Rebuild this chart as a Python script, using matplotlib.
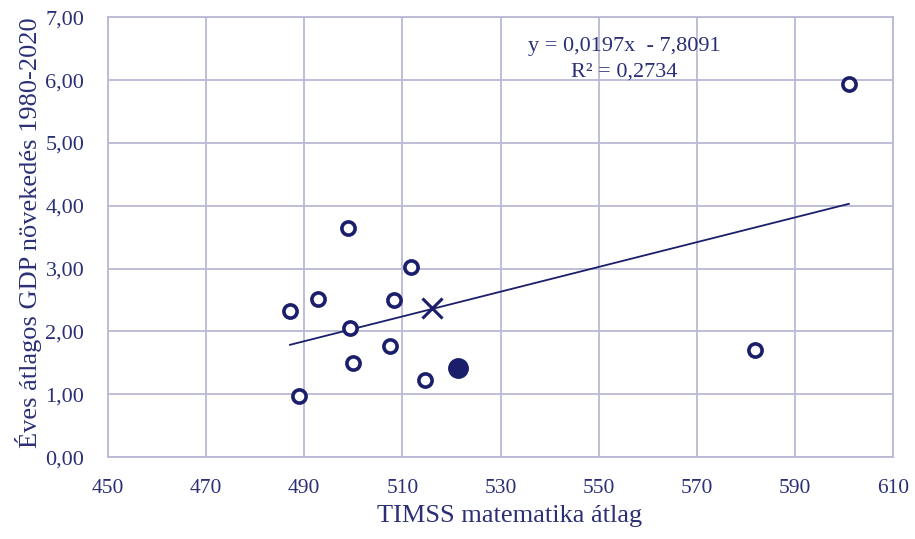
import numpy as np
from matplotlib import pyplot as plt
from matplotlib.ticker import FuncFormatter

plt.rcParams['font.family'] = ['Liberation Serif', 'DejaVu Serif']

# adatok (leolvasva az abrarol)
timss = [601.0, 498.9, 511.8, 492.8, 487.1, 508.3, 499.3, 507.5, 499.9, 514.6, 488.9, 581.9]
gdp = [5.93, 3.65, 3.03, 2.52, 2.33, 2.50, 2.05, 1.77, 1.50, 1.22, 0.97, 1.70]
kiemelt_x = [521.3]   # teli kor
kiemelt_y = [1.42]
atlag_x = [516.0]     # X jel
atlag_y = [2.37]
meredekseg = 0.0197
tengelymetszet = -7.8091
r2 = 0.2734

navy = '#1b1f6b'
racs = '#b9b9d6'
szoveg = '#2b3076'

fig = plt.figure(figsize=(9.15, 5.39), dpi=100)
ax = fig.add_axes([0.118, 0.152, 0.858, 0.816])

ax.set_xlim(450, 610)
ax.set_ylim(0, 7)
ax.set_xticks(np.arange(450, 611, 20))
ax.set_yticks(np.arange(0, 7.01, 1))
ax.grid(True, color=racs, linewidth=1.3)
ax.set_axisbelow(True)
for s in ax.spines.values():
    s.set_color(racs)
    s.set_linewidth(1.3)
ax.tick_params(length=0, colors=szoveg)
ax.tick_params(axis='x', labelsize=15.5, pad=16)
ax.tick_params(axis='y', labelsize=16, pad=17)
ax.yaxis.set_major_formatter(FuncFormatter(lambda v, p: ('%.2f' % v).replace('.', ',')))

# trendvonal
xx = np.array([min(timss), max(timss)])
ax.plot(xx, meredekseg * xx + tengelymetszet, color=navy, linewidth=1.3, zorder=2)

ax.plot(timss, gdp, 'o', ms=9.5, mfc='white', mec=navy, mew=2.6, zorder=3)
ax.plot(kiemelt_x, kiemelt_y, 'o', ms=14, color=navy, zorder=3)
ax.plot(atlag_x, atlag_y, 'x', ms=15, mec=navy, mew=2.2, zorder=3)

ax.text(555.3, 6.53, 'y = 0,0197x  - 7,8091', ha='center', va='center', fontsize=16, color=szoveg)
ax.text(555.3, 6.13, 'R² = ' + ('%.4f' % r2).replace('.', ','), ha='center', va='center', fontsize=16, color=szoveg)

ax.set_xlabel('TIMSS matematika átlag', fontsize=19, color=szoveg, va='center')
ax.xaxis.set_label_coords(0.512, -0.135)
ax.set_ylabel('Éves átlagos GDP növekedés 1980-2020', fontsize=19, color=szoveg, va='center')
ax.yaxis.set_label_coords(-0.101, 0.51)

fig.savefig('out.png', dpi=100)
